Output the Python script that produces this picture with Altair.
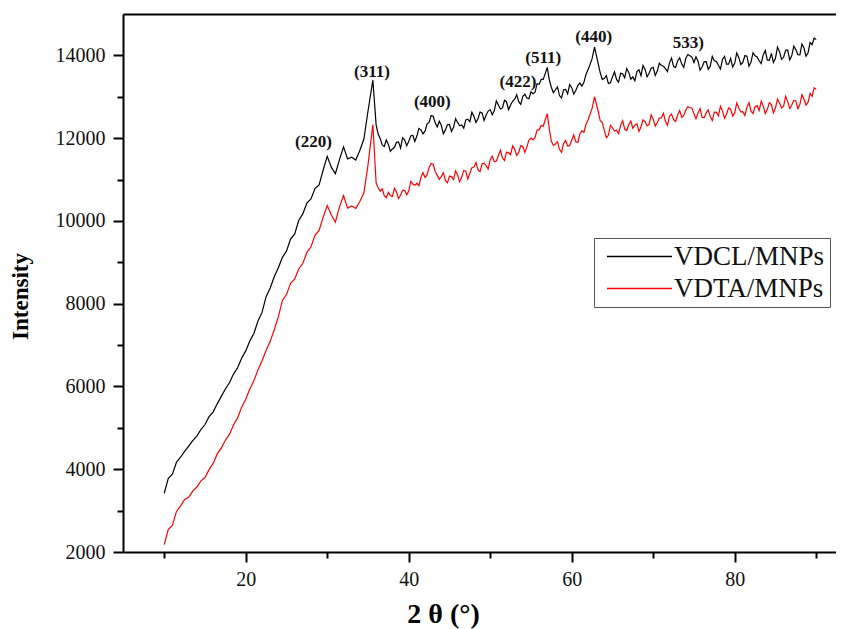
import altair as alt
import pandas as pd

# 2-theta angles (degrees), main grid
angles = [
    10.0, 10.5, 11.0, 11.5, 12.0, 12.5, 13.0, 13.5, 14.0, 14.5,
    15.0, 15.5, 16.0, 16.5, 17.0, 17.5, 18.0, 18.5, 19.0, 19.5,
    20.0, 20.5, 21.0, 21.5, 22.0, 22.5, 23.0, 23.5, 24.0, 24.5,
    25.0, 25.5, 26.0, 26.5, 27.0, 27.5, 28.0, 28.5, 29.0, 29.5,
    30.0, 30.5, 31.0, 31.5, 32.0, 32.5, 33.0, 33.5, 34.0, 34.5,
    35.0, 35.6, 36.0, 36.5, 37.0, 37.5, 38.0, 38.5, 39.0, 39.5,
    40.0, 40.5, 41.0, 41.5, 42.0, 42.5, 43.0, 43.5, 44.0, 44.5,
    45.0, 45.5, 46.0, 46.5, 47.0, 47.5, 48.0, 48.5, 49.0, 49.5,
    50.0, 50.5, 51.0, 51.5, 52.0, 52.5, 53.0, 53.5, 54.0, 54.5,
    55.0, 55.5, 56.0, 56.5, 57.0, 57.5, 58.0, 58.5, 59.0, 59.5,
    60.0, 60.5, 61.0, 61.5, 62.0, 62.5, 62.8, 63.5, 64.0, 64.5,
    65.0, 65.5, 66.0, 66.5, 67.0, 67.5, 68.0, 68.5, 69.0, 69.5,
    70.0, 70.5, 71.0, 71.5, 72.0, 72.5, 73.0, 73.5, 74.0, 74.5,
    75.0, 75.5, 76.0, 76.5, 77.0, 77.5, 78.0, 78.5, 79.0, 79.5,
    80.0, 80.5, 81.0, 81.5, 82.0, 82.5, 83.0, 83.5, 84.0, 84.5,
    85.0, 85.5, 86.0, 86.5, 87.0, 87.5, 88.0, 88.5, 89.0, 89.5,
    90.0,
]

vdcl = [
    3420, 3780, 3880, 4170, 4290, 4430, 4560, 4690, 4800, 4960,
    5080, 5270, 5380, 5580, 5760, 5940, 6090, 6300, 6450, 6680,
    6860, 7100, 7280, 7580, 7790, 8170, 8380, 8650, 8870, 9120,
    9270, 9560, 9680, 10010, 10170, 10430, 10530, 10780, 10870, 11230,
    11560, 11300, 11140, 11480, 11790, 11500, 11540, 11470, 11700, 11980,
    12650, 13400, 12320, 11990, 11800, 11850, 11740, 11900, 11760, 11960,
    11920, 12070, 12050, 12200, 12170, 12380, 12530, 12270, 12310, 12200,
    12330, 12260, 12380, 12320, 12440, 12400, 12530, 12470, 12610, 12560,
    12690, 12660, 12800, 12730, 12880, 12800, 12940, 12880, 13010, 12970,
    13120, 13110, 13300, 13420, 13710, 13230, 13170, 13030, 13170, 13070,
    13220, 13150, 13330, 13350, 13650, 13920, 14200, 13580, 13440, 13320,
    13480, 13420, 13570, 13460, 13590, 13480, 13610, 13510, 13660, 13570,
    13710, 13620, 13760, 13680, 13820, 13730, 13870, 13790, 13930, 13990,
    13830, 13860, 13720, 13850, 13740, 13870, 13760, 13900, 13790, 13930,
    13810, 13950, 13830, 13980, 13840, 13990, 13870, 14010, 13890, 14050,
    13930, 14090, 13960, 14130, 13990, 14140, 14010, 14180, 14060, 14260,
    14380,
]

vdta = [
    2180, 2550, 2640, 2980, 3110, 3270, 3320, 3470, 3570, 3720,
    3800, 3990, 4140, 4370, 4510, 4700, 4840, 5070, 5240, 5500,
    5690, 5940, 6140, 6400, 6620, 6870, 7090, 7370, 7680, 8080,
    8220, 8490, 8590, 8840, 8970, 9240, 9370, 9650, 9770, 10090,
    10370, 10150, 9970, 10340, 10610, 10310, 10360, 10300, 10470, 10680,
    11350, 12330, 10920, 10720, 10610, 10690, 10590, 10700, 10620, 10740,
    10720, 10890, 10910, 11050, 11050, 11290, 11370, 11100, 11070, 10980,
    11080, 11000, 11110, 11060, 11200, 11150, 11300, 11240, 11380, 11330,
    11480, 11430, 11580, 11520, 11660, 11600, 11730, 11660, 11800, 11790,
    12000, 12010, 12200, 12290, 12590, 11930, 11860, 11730, 11870, 11810,
    11950, 11910, 12100, 12140, 12440, 12720, 13000, 12420, 12190, 12070,
    12250, 12190, 12310, 12220, 12330, 12240, 12350, 12270, 12400, 12330,
    12460, 12380, 12490, 12410, 12530, 12450, 12560, 12500, 12680, 12740,
    12590, 12610, 12500, 12610, 12520, 12630, 12540, 12660, 12580, 12700,
    12610, 12730, 12640, 12750, 12650, 12760, 12670, 12780, 12690, 12810,
    12730, 12850, 12770, 12890, 12800, 12900, 12820, 12940, 12870, 13010,
    13180,
]

# extra in-between readings (noisier high-angle part)
angles_mid = [
    36.25, 36.75, 37.25, 37.75, 38.25, 38.75, 39.25, 39.75,
    40.25, 40.75, 41.25, 41.75, 42.25, 42.75, 43.25, 43.75, 44.25, 44.75,
    45.25, 45.75, 46.25, 46.75, 47.25, 47.75, 48.25, 48.75, 49.25, 49.75,
    50.25, 50.75, 51.25, 51.75, 52.25, 52.75, 53.25, 53.75, 54.25, 54.75,
    55.25, 55.75, 56.25, 56.75, 57.25, 57.75, 58.25, 58.75, 59.25, 59.75,
    60.25, 60.75, 61.25, 61.75, 62.25,
    63.25, 63.75, 64.25, 64.75,
    65.25, 65.75, 66.25, 66.75, 67.25, 67.75, 68.25, 68.75, 69.25, 69.75,
    70.25, 70.75, 71.25, 71.75, 72.25, 72.75, 73.25, 73.75, 74.25, 74.75,
    75.25, 75.75, 76.25, 76.75, 77.25, 77.75, 78.25, 78.75, 79.25, 79.75,
    80.25, 80.75, 81.25, 81.75, 82.25, 82.75, 83.25, 83.75, 84.25, 84.75,
    85.25, 85.75, 86.25, 86.75, 87.25, 87.75, 88.25, 88.75, 89.25, 89.75,
]

vdcl_mid = [
    12100, 11835, 11955, 11685, 11780, 11910, 12010, 11820,
    12055, 11920, 12235, 12105, 12345, 12545, 12370, 12410, 12105, 12325,
    12165, 12470, 12300, 12240, 12460, 12625, 12380, 12630, 12425, 12655,
    12565, 12900, 12705, 12915, 12690, 12890, 13050, 12815, 13060, 12955,
    13075, 13315, 13420, 13560, 13410, 13100, 13240, 12970, 13180, 13295,
    13065, 13270, 13260, 13540, 13780,
    13800, 13420, 13510, 13340,
    13600, 13355, 13555, 13685, 13425, 13385, 13650, 13755, 13485, 13690,
    13515, 13810, 13740, 13610, 13935, 13710, 13940, 13710, 14020, 13960,
    13965, 13640, 13845, 13665, 13975, 13855, 13670, 13975, 13790, 13720,
    14060, 13780, 13995, 13740, 14065, 13960, 13800, 14120, 13880, 13830,
    14200, 13905, 14125, 13890, 14225, 14015, 14275, 13980, 14310, 14420,
]

vdta_mid = [
    10800, 10775, 10560, 10610, 10785, 10540, 10740, 10630,
    10955, 10860, 10850, 11170, 11110, 11390, 11195, 11005, 11165, 10920,
    11070, 11205, 10945, 11220, 11015, 11285, 11410, 11190, 11395, 11255,
    11565, 11445, 11710, 11460, 11650, 11815, 11585, 11820, 11655, 11955,
    11955, 12195, 12305, 12440, 12220, 11825, 11915, 11660, 11940, 11820,
    12080, 11895, 12180, 12330, 12580,
    12650, 12375, 12010, 12310,
    12170, 12110, 12425, 12185, 12415, 12315, 12160, 12445, 12295, 12565,
    12290, 12485, 12600, 12310, 12580, 12405, 12670, 12550, 12760, 12725,
    12470, 12715, 12495, 12685, 12425, 12625, 12770, 12480, 12730, 12535,
    12850, 12635, 12545, 12860, 12595, 12785, 12895, 12595, 12860, 12610,
    12940, 12730, 13010, 12715, 12910, 12710, 13050, 12795, 13080, 13215,
]

series_names = ["VDCL/MNPs", "VDTA/MNPs"]
series_colors = ["#000000", "#ff0000"]

peak_labels = ["(220)", "(311)", "(400)", "(422)", "(511)", "(440)", "533)"]
peak_x = [28.3, 35.5, 42.9, 53.4, 56.5, 62.7, 74.3]
peak_y = [11900, 13610, 12870, 13350, 13930, 14440, 14290]

x_major = [20, 40, 60, 80]
x_minor = [10, 30, 50, 70, 90]
y_major = [2000, 4000, 6000, 8000, 10000, 12000, 14000]
y_minor = [3000, 5000, 7000, 9000, 11000, 13000]

rows = []
for a, b in zip(angles + angles_mid, vdcl + vdcl_mid):
    rows.append({"angle": a, "intensity": b, "sample": series_names[0]})
for a, r in zip(angles + angles_mid, vdta + vdta_mid):
    rows.append({"angle": a, "intensity": r, "sample": series_names[1]})
df = pd.DataFrame(rows).sort_values(["sample", "angle"]).reset_index(drop=True)

lab_df = pd.DataFrame({"label": peak_labels, "angle": peak_x, "intensity": peak_y})

FONT = "Liberation Serif"
xscale = alt.Scale(domain=[4.94, 92.43], nice=False, zero=False)
yscale = alt.Scale(domain=[2000, 15000], nice=False, zero=False)

x_axis = alt.Axis(
    values=x_major, format="d", grid=False,
    labelFont=FONT, labelFontSize=20, labelColor="#111", labelPadding=7,
    tickSize=10, tickWidth=2, tickColor="black",
    domainColor="black", domainWidth=2,
    title="2 θ (°)", titleFont=FONT, titleFontSize=28, titleFontWeight="bold",
    titleColor="black", titleX=320, titleY=70, titleAlign="center",
    titleBaseline="alphabetic",
)
y_axis = alt.Axis(
    values=y_major, format="d", grid=False,
    labelFont=FONT, labelFontSize=20, labelColor="#111", labelPadding=8,
    tickSize=10, tickWidth=2, tickColor="black",
    domainColor="black", domainWidth=2,
    title="Intensity", titleFont=FONT, titleFontSize=23, titleFontWeight="bold",
    titleColor="black", titleX=-103, titleY=282, titleAlign="center",
    titleBaseline="middle",
)
x_minor_axis = alt.Axis(values=x_minor, orient="bottom", labels=False, tickSize=6,
                        tickWidth=2, tickColor="black", domain=False, grid=False, title=None)
y_minor_axis = alt.Axis(values=y_minor, orient="left", labels=False, tickSize=6,
                        tickWidth=2, tickColor="black", domain=False, grid=False, title=None)
top_axis = alt.Axis(orient="top", labels=False, ticks=False, domain=True, domainWidth=2,
                    domainColor="black", grid=False, title=None)

lines = alt.Chart(df).mark_line(strokeWidth=1.2).encode(
    x=alt.X("angle:Q", scale=xscale, axis=x_axis),
    y=alt.Y("intensity:Q", scale=yscale, axis=y_axis),
    color=alt.Color(
        "sample:N",
        scale=alt.Scale(domain=series_names, range=series_colors),
        legend=alt.Legend(
            title=None, orient="none", legendX=471, legendY=224,
            symbolType="M-5,0H5", symbolSize=169, symbolStrokeWidth=1.5,
            symbolOffset=27, labelOffset=21,
            labelFont=FONT, labelFontSize=27, labelColor="#111",
            labelLimit=400, rowPadding=4, padding=5,
            strokeColor="#555", fillColor="white",
        ),
    ),
    detail="sample:N",
)

minor = alt.Chart(df).mark_point(opacity=0).encode(
    x=alt.X("angle:Q", scale=xscale, axis=x_minor_axis),
    y=alt.Y("intensity:Q", scale=yscale, axis=y_minor_axis),
)

top = alt.Chart(df).mark_point(opacity=0).encode(
    x=alt.X("angle:Q", scale=xscale, axis=top_axis),
    y=alt.Y("intensity:Q", scale=yscale, axis=None),
)

labels = alt.Chart(lab_df).mark_text(
    font=FONT, fontSize=17, fontWeight="bold", color="#111", baseline="middle", align="center"
).encode(
    x=alt.X("angle:Q", scale=xscale, axis=None),
    y=alt.Y("intensity:Q", scale=yscale, axis=None),
    text="label:N",
)

chart = (
    alt.layer(lines, minor, top, labels)
    .resolve_axis(x="independent", y="independent")
    .properties(
        width=713, height=538,
        padding={"left": 115, "top": 6, "right": 0, "bottom": 77},
        autosize=alt.AutoSizeParams(type="none"),
    )
    .configure_view(stroke=None)
)

chart.save("out.html", embed_options={"renderer": "svg", "actions": False})
